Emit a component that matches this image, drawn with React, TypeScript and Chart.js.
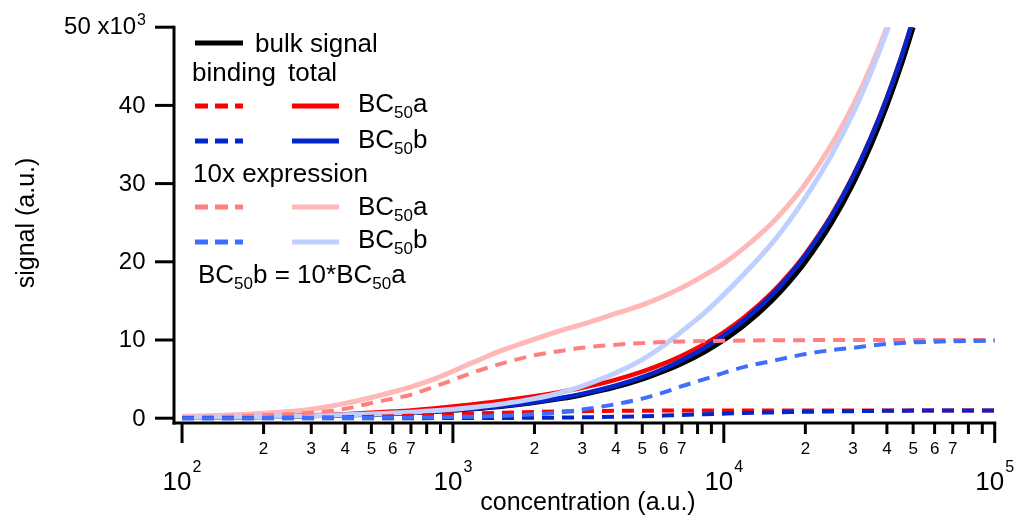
import { useEffect, useRef } from 'react';
import { Chart, registerables } from 'chart.js';

Chart.register(...registerables);

const FONT = '"Liberation Sans", Arial, Helvetica, sans-serif';

// concentration (a.u.) sample points shared by all series
const CONC = [100, 150, 200, 300, 400, 500, 600, 700, 850, 1000, 1200, 1500, 2000, 2500, 3000, 4000, 5000, 6000, 7000, 8500, 10000, 12000, 15000, 17500, 20000, 25000, 30000, 35000, 40000, 45000, 50000, 60000, 70000, 85000, 100000];

const BULK = [100, 150, 200, 300, 400, 500, 600, 700, 850, 1000, 1200, 1500, 2000, 2500, 3000, 4000, 5000, 6000, 7000, 8500, 10000, 12000, 15000, 17500, 20000, 25000, 30000, 35000, 40000, 45000, 50000, null, null, null, null];
const RED_TOTAL = [110, 172, 238, 370, 520, 695, 850, 1000, 1250, 1500, 1790, 2190, 2800, 3360, 3900, 4940, 5960, 6973, 7980, 9486, 10990, 12993, 15996, 18497, 20998, 26000, 31000, 36000, 41000, 46000, 51000, null, null, null, null];
const BLUE_TOTAL = [100, 151, 201, 302, 403, 504, 605, 707, 860, 1015, 1220, 1530, 2050, 2575, 3110, 4180, 5250, 6330, 7410, 9000, 10580, 12660, 15730, 18280, 20820, 25870, 30900, 35930, 40950, 45960, 50970, null, null, null, null];
const LIGHT_RED_TOTAL = [250, 400, 620, 1150, 1900, 2650, 3350, 4000, 5000, 6000, 7200, 8600, 10100, 11200, 12000, 13400, 14500, 15600, 16700, 18300, 19800, 21900, 24900, 27450, 29950, 35000, 40000, 45000, 50000, 55000, null, null, null, null, null];
const LIGHT_BLUE_TOTAL = [100, 155, 210, 320, 430, 540, 650, 770, 950, 1150, 1400, 1800, 2500, 3250, 4100, 5800, 7500, 9300, 11100, 13500, 15800, 18600, 22300, 25300, 28200, 33700, 39000, 44300, 49500, 54600, null, null, null, null, null];

const RED_BINDING = [10, 22, 38, 70, 120, 195, 250, 300, 400, 500, 590, 690, 800, 860, 900, 940, 960, 973, 980, 986, 990, 993, 996, 997, 998, 1000, 1000, 1000, 1000, 1000, 1000, 1000, 1000, 1000, 1000];
const BLUE_BINDING = [0, 1, 1, 2, 3, 4, 5, 7, 10, 15, 20, 30, 50, 75, 110, 180, 250, 330, 410, 500, 580, 660, 730, 780, 820, 870, 900, 930, 950, 960, 970, 978, 985, 988, 990];
const LIGHT_RED_BINDING = [100, 220, 380, 700, 1200, 1950, 2500, 3000, 4000, 4900, 5900, 6950, 8050, 8600, 9000, 9400, 9600, 9730, 9800, 9860, 9900, 9930, 9960, 9970, 9980, 10000, 10000, 10000, 10000, 10000, 10000, 10000, 10000, 10000, 10000];
const LIGHT_BLUE_BINDING = [0, 5, 10, 20, 30, 40, 50, 70, 100, 150, 200, 300, 500, 750, 1100, 1800, 2500, 3300, 4100, 5000, 5800, 6600, 7300, 7800, 8200, 8700, 9000, 9300, 9500, 9600, 9700, 9780, 9850, 9880, 9900];

// axis ticks
const Y_TICKS = [0, 10000, 20000, 30000, 40000, 50000];
const Y_TICK_LABELS = ['0', '10', '20', '30', '40', '50 x10'];
const Y_TICK_EXP = ['', '', '', '', '', '3'];
const X_MAJOR_TICKS = [100, 1000, 10000, 100000];
const X_MAJOR_EXP = ['2', '3', '4', '5'];
const X_MINOR_TICKS = [
  200, 300, 400, 500, 600, 700, 800, 900,
  2000, 3000, 4000, 5000, 6000, 7000, 8000, 9000,
  20000, 30000, 40000, 50000, 60000, 70000, 80000, 90000,
];
const X_MINOR_LABELS = [
  '2', '3', '4', '5', '6', '7', '', '',
  '2', '3', '4', '5', '6', '7', '', '',
  '2', '3', '4', '5', '6', '7', '', '',
];
const X_TITLE = 'concentration (a.u.)';
const Y_TITLE = 'signal (a.u.)';

const C_BLACK = '#000000';
const C_RED = '#ff0000';
const C_BLUE = '#0026cc';
const C_LRED = '#ffb8b8';
const C_LBLUE = '#bfd0ff';
const C_LRED_D = '#ff7f7f';
const C_LBLUE_D = '#3f6dff';

const DASH = [12, 8];

function series(vals: (number | null)[]) {
  return CONC.map((c, i) => ({ x: c, y: vals[i] }));
}

function mk(label: string, vals: (number | null)[], color: string, width: number, dashed: boolean, order: number) {
  return {
    label,
    data: series(vals),
    borderColor: color,
    backgroundColor: color,
    borderWidth: width,
    borderDash: dashed ? DASH : [],
    pointRadius: 0,
    pointHoverRadius: 0,
    fill: false,
    cubicInterpolationMode: 'monotone' as const,
    spanGaps: false,
    order,
    clip: { left: 20, top: 0, right: 20, bottom: 20 },
  };
}

function supText(ctx: CanvasRenderingContext2D, base: string, sup: string, x: number, y: number,
  baseSize: number, supSize: number, supRaise: number, align: 'left' | 'center' | 'right') {
  ctx.font = `${baseSize}px ${FONT}`;
  const wb = ctx.measureText(base).width;
  ctx.font = `${supSize}px ${FONT}`;
  const ws = sup ? ctx.measureText(sup).width + 1 : 0;
  const total = wb + ws;
  let x0 = x;
  if (align === 'center') x0 = x - total / 2;
  else if (align === 'right') x0 = x - total;
  ctx.textAlign = 'left';
  ctx.textBaseline = 'alphabetic';
  ctx.font = `${baseSize}px ${FONT}`;
  ctx.fillText(base, x0, y);
  if (sup) {
    ctx.font = `${supSize}px ${FONT}`;
    ctx.fillText(sup, x0 + wb + 1, y - supRaise);
  }
}

// draws a run of [text, isSubscript] parts
function subText(ctx: CanvasRenderingContext2D, parts: [string, boolean][], x: number, y: number) {
  let cx = x;
  ctx.textAlign = 'left';
  ctx.textBaseline = 'alphabetic';
  for (const [t, sub] of parts) {
    ctx.font = sub ? `17px ${FONT}` : `26px ${FONT}`;
    ctx.fillText(t, cx, sub ? y + 6 : y);
    cx += ctx.measureText(t).width;
  }
}

function legendLine(ctx: CanvasRenderingContext2D, x1: number, x2: number, y: number, color: string, dashed: boolean) {
  ctx.save();
  ctx.strokeStyle = color;
  ctx.lineWidth = 5;
  ctx.lineCap = 'butt';
  ctx.setLineDash(dashed ? [13, 7] : []);
  ctx.beginPath();
  ctx.moveTo(x1, y);
  ctx.lineTo(x2, y);
  ctx.stroke();
  ctx.restore();
}

const axesPlugin = {
  id: 'igorAxes',
  afterDraw(chart: any) {
    const ctx: CanvasRenderingContext2D = chart.ctx;
    const xs = chart.scales.x;
    const ys = chart.scales.y;
    const area = chart.chartArea;
    ctx.save();
    ctx.fillStyle = '#000';
    ctx.strokeStyle = '#000';
    ctx.lineWidth = 3;
    ctx.lineCap = 'butt';
    ctx.setLineDash([]);

    // axis lines
    const ax = area.left;
    const ay = area.bottom;
    ctx.beginPath();
    ctx.moveTo(ax, ys.getPixelForValue(50000) - 1.5);
    ctx.lineTo(ax, ay + 1.5);
    ctx.stroke();
    ctx.beginPath();
    ctx.moveTo(ax - 1.5, ay);
    ctx.lineTo(xs.getPixelForValue(100000) + 1.5, ay);
    ctx.stroke();

    // y ticks
    Y_TICKS.forEach((v, i) => {
      const py = ys.getPixelForValue(v);
      ctx.beginPath();
      ctx.moveTo(ax - 19, py);
      ctx.lineTo(ax, py);
      ctx.stroke();
      if (Y_TICK_EXP[i]) {
        supText(ctx, Y_TICK_LABELS[i], Y_TICK_EXP[i], 146, py + 6.5, 24, 16, 9, 'right');
      } else {
        ctx.font = `24px ${FONT}`;
        ctx.textAlign = 'right';
        ctx.textBaseline = 'alphabetic';
        ctx.fillText(Y_TICK_LABELS[i], 145.5, py + 7.5);
      }
    });

    // x ticks
    X_MAJOR_TICKS.forEach((v, i) => {
      const px = xs.getPixelForValue(v);
      ctx.beginPath();
      ctx.moveTo(px, ay);
      ctx.lineTo(px, ay + 20);
      ctx.stroke();
      supText(ctx, '10', X_MAJOR_EXP[i], px, 490, 26, 16, 18.5, 'center');
    });
    X_MINOR_TICKS.forEach((v, i) => {
      const px = xs.getPixelForValue(v);
      ctx.beginPath();
      ctx.moveTo(px, ay);
      ctx.lineTo(px, ay + 11);
      ctx.stroke();
      if (X_MINOR_LABELS[i]) {
        ctx.font = `17px ${FONT}`;
        ctx.textAlign = 'center';
        ctx.textBaseline = 'alphabetic';
        ctx.fillText(X_MINOR_LABELS[i], px, 454);
      }
    });

    // axis titles
    ctx.font = `25px ${FONT}`;
    ctx.textAlign = 'center';
    ctx.textBaseline = 'alphabetic';
    ctx.fillText(X_TITLE, 588, 510);
    ctx.save();
    ctx.translate(34, 223);
    ctx.rotate(-Math.PI / 2);
    ctx.fillText(Y_TITLE, 0, 0);
    ctx.restore();

    // legend
    legendLine(ctx, 195, 243, 43, C_BLACK, false);
    ctx.font = `26px ${FONT}`;
    ctx.textAlign = 'left';
    ctx.fillText('bulk signal', 255, 52);
    ctx.fillText('binding', 192, 81);
    ctx.fillText('total', 288, 81);

    legendLine(ctx, 195, 243, 106, C_RED, true);
    legendLine(ctx, 292, 339, 106, C_RED, false);
    subText(ctx, [['BC', false], ['50', true], ['a', false]], 358, 112);

    legendLine(ctx, 195, 243, 141, C_BLUE, true);
    legendLine(ctx, 292, 339, 141, C_BLUE, false);
    subText(ctx, [['BC', false], ['50', true], ['b', false]], 358, 148);

    ctx.font = `26px ${FONT}`;
    ctx.fillText('10x expression', 193, 182);

    legendLine(ctx, 195, 243, 207, C_LRED_D, true);
    legendLine(ctx, 292, 339, 207, C_LRED, false);
    subText(ctx, [['BC', false], ['50', true], ['a', false]], 358, 215);

    legendLine(ctx, 195, 243, 242, C_LBLUE_D, true);
    legendLine(ctx, 292, 339, 242, C_LBLUE, false);
    subText(ctx, [['BC', false], ['50', true], ['b', false]], 358, 248);

    subText(ctx, [['BC', false], ['50', true], ['b = 10*BC', false], ['50', true], ['a', false]], 198, 283);

    ctx.restore();
  },
};

export default function App() {
  const ref = useRef<HTMLCanvasElement>(null);
  useEffect(() => {
    const canvas = ref.current;
    if (!canvas) return;
    const datasets: any[] = [
      mk('light blue binding', LIGHT_BLUE_BINDING, C_LBLUE_D, 4, true, 0),
      mk('blue binding', BLUE_BINDING, C_BLUE, 4, true, 1),
      mk('red binding', RED_BINDING, C_RED, 4, true, 2),
      mk('light red binding', LIGHT_RED_BINDING, C_LRED_D, 4, true, 3),
      mk('light blue total', LIGHT_BLUE_TOTAL, C_LBLUE, 5, false, 4),
      mk('light red total', LIGHT_RED_TOTAL, C_LRED, 5, false, 5),
      mk('blue total', BLUE_TOTAL, C_BLUE, 4.5, false, 6),
      mk('red total', RED_TOTAL, C_RED, 4.5, false, 7),
      mk('bulk signal', BULK, C_BLACK, 5, false, 8),
    ];
    const chart = new Chart(canvas, {
      type: 'line',
      data: { datasets },
      options: {
        responsive: false,
        maintainAspectRatio: false,
        devicePixelRatio: 1,
        animation: false,
        events: [],
        layout: { padding: { left: 174, top: 27.2, right: 30.3, bottom: 98 } },
        scales: {
          x: { type: 'logarithmic', min: 93.4, max: 100000, display: false },
          y: { type: 'linear', min: -614, max: 50000, display: false },
        },
        plugins: {
          legend: { display: false },
          tooltip: { enabled: false },
        },
      },
      plugins: [axesPlugin],
    } as any);
    return () => chart.destroy();
  }, []);
  return (
    <div style={{ position: 'absolute', left: 0, top: 0, width: 1025, height: 521, background: '#ffffff' }}>
      <canvas ref={ref} width={1025} height={521} style={{ display: 'block', width: 1025, height: 521 }} />
    </div>
  );
}
